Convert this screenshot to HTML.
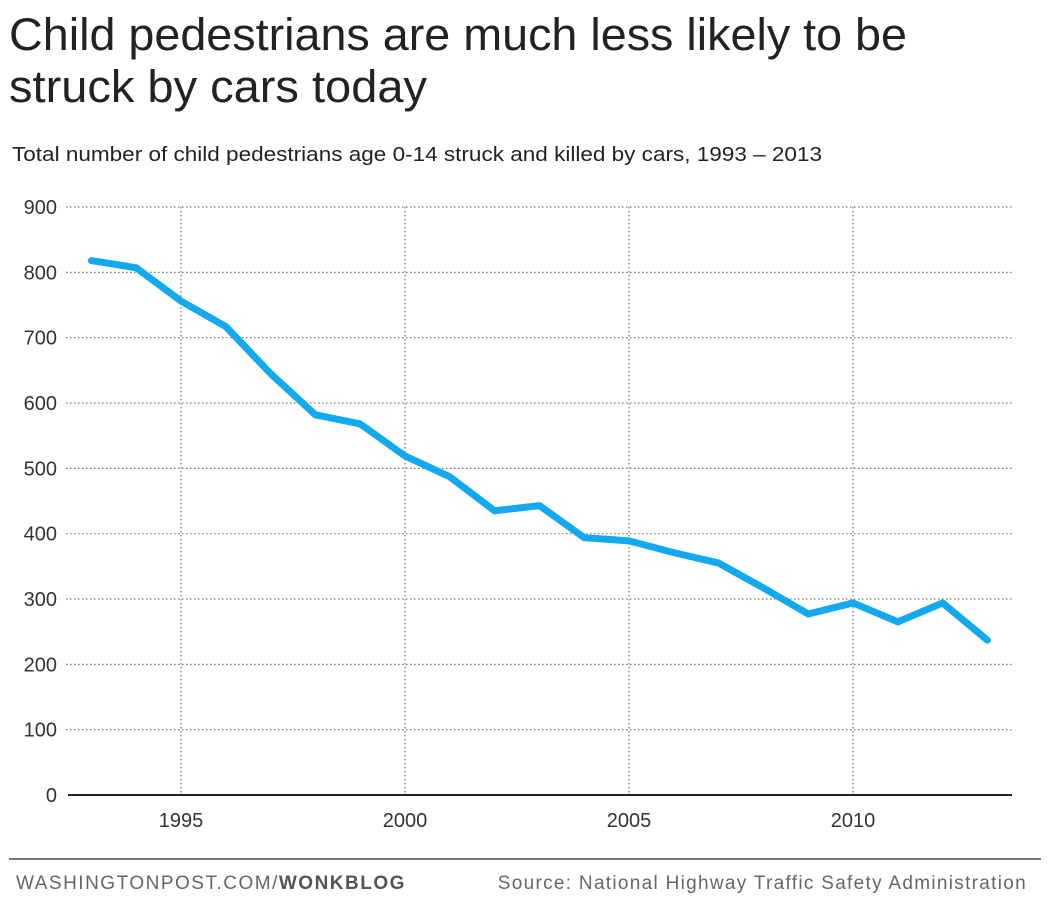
<!DOCTYPE html>
<html><head><meta charset="utf-8">
<style>
body{margin:0;background:#fff;width:1054px;height:911px;overflow:hidden;font-family:"Liberation Sans",sans-serif;}
svg{display:block}
</style></head>
<body>
<svg id="chart" width="1054" height="911" xmlns="http://www.w3.org/2000/svg">
<text x="9" y="50" font-size="45" fill="#222" font-family="Liberation Sans, sans-serif" textLength="898" lengthAdjust="spacingAndGlyphs">Child pedestrians are much less likely to be</text>
<text x="9" y="102" font-size="45" fill="#222" font-family="Liberation Sans, sans-serif" textLength="418" lengthAdjust="spacingAndGlyphs">struck by cars today</text>
<text x="12" y="161" font-size="20" fill="#222" textLength="810" lengthAdjust="spacingAndGlyphs">Total number of child pedestrians age 0-14 struck and killed by cars, 1993 – 2013</text>
<g id="grid"></g>
<g id="axes"></g>
<path id="line" fill="none" stroke="#12a9ef" stroke-width="7" stroke-linejoin="round" stroke-linecap="round"/>
<line x1="9" y1="859" x2="1041" y2="859" stroke="#777" stroke-width="2"/>
<text x="16" y="889" font-size="19" fill="#666" letter-spacing="1.5">WASHINGTONPOST.COM/<tspan font-weight="bold" fill="#555">WONKBLOG</tspan></text>
<text x="1027" y="889" font-size="19" fill="#666" text-anchor="end" letter-spacing="1.3">Source: National Highway Traffic Safety Administration</text>
</svg>
<script>
const years=[1993,1994,1995,1996,1997,1998,1999,2000,2001,2002,2003,2004,2005,2006,2007,2008,2009,2010,2011,2012,2013];
const deaths=[818,807,756,717,645,582,568,519,487,435,443,394,389,371,355,317,277,294,265,294,237];
const yTicks=[0,100,200,300,400,500,600,700,800,900];
const xTicks=[1995,2000,2005,2010];
const NS="http://www.w3.org/2000/svg";
const x=v=>181+(v-1995)*44.8;
const y=v=>795-v*0.6533;
const grid=document.getElementById('grid'),axes=document.getElementById('axes');
function mk(tag,attrs,parent){const e=document.createElementNS(NS,tag);for(const k in attrs)e.setAttribute(k,attrs[k]);parent.appendChild(e);return e;}
yTicks.forEach(t=>{
  if(t>0){const l=mk('line',{x1:66,x2:1012,y1:y(t),y2:y(t),stroke:'#777','stroke-width':1.2,'stroke-dasharray':'1.5 2.5'},grid);
  
  }
  const tx=mk('text',{x:57,y:y(t)+7,'font-size':20,fill:'#333','text-anchor':'end'},axes);
  tx.textContent=t;
  
  
});
xTicks.forEach(t=>{
  const l=mk('line',{x1:x(t),x2:x(t),y1:y(900),y2:795,stroke:'#777','stroke-width':1.2,'stroke-dasharray':'1.5 2.5'},grid);
  
  
  const tx=mk('text',{x:x(t),y:827,'font-size':20,fill:'#333','text-anchor':'middle'},axes);
  tx.textContent=t;
  
  
});
const base=mk('line',{x1:68,x2:1012,y1:795,y2:795,stroke:'#222','stroke-width':2},axes);


document.getElementById('line').setAttribute('d',years.map((yr,i)=>(i?'L':'M')+x(yr)+','+y(deaths[i])).join(''));
</script>
</body></html>
